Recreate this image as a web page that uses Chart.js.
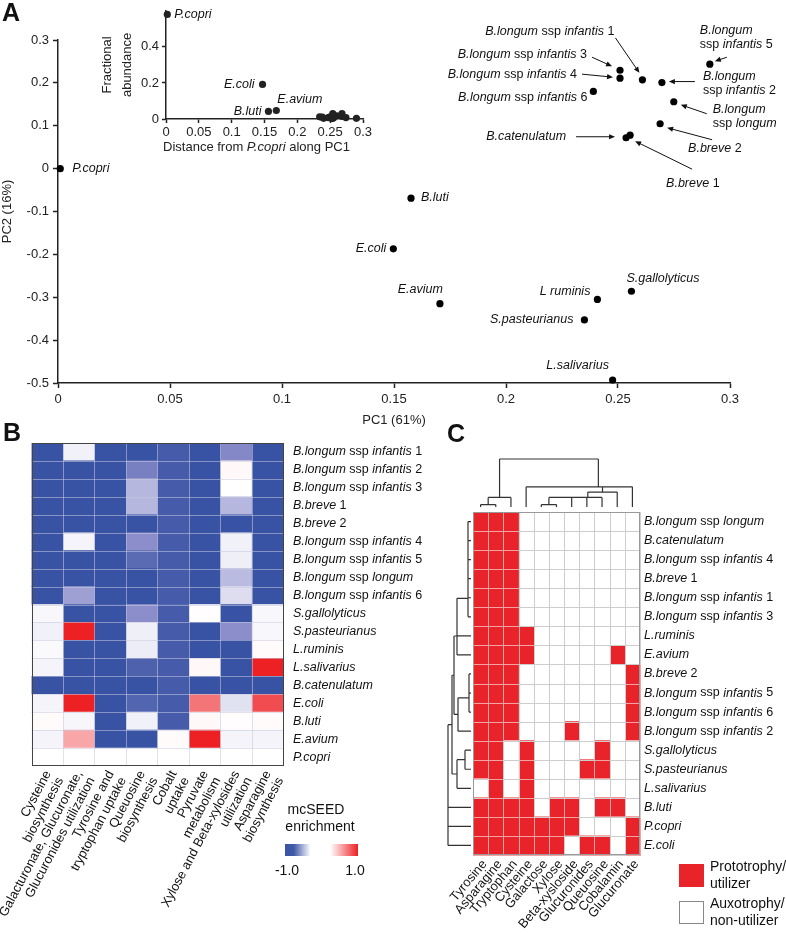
<!DOCTYPE html>
<html>
<head>
<meta charset="utf-8">
<script src="https://cdn.jsdelivr.net/npm/chart.js@4.4.1/dist/chart.umd.min.js"></script>
<style>
body{margin:0;background:#fff;}
#fig{position:relative;width:786px;height:935px;overflow:hidden;background:#fff;}
canvas{position:absolute;}
.panel{position:absolute;font-family:"Liberation Sans Narrow","Liberation Sans",Arial,sans-serif;font-weight:bold;font-size:25px;line-height:1;color:#111;}
</style>
</head>
<body>
<div id="fig">
  <canvas id="pca" width="786" height="430" style="left:0;top:0"></canvas>
  <canvas id="inset" width="290" height="160" style="left:90px;top:0"></canvas>
  <canvas id="heatB" width="445" height="510" style="left:0;top:425px"></canvas>
  <canvas id="heatC" width="346" height="510" style="left:440px;top:425px"></canvas>
  <div class="panel" style="left:2px;top:0">A</div>
  <div class="panel" style="left:3px;top:420px">B</div>
  <div class="panel" style="left:447px;top:421px">C</div>
</div>
<script>
// ---- data: panel A (PCA) ----
var speciesA = ['*P.copri*', '*B.luti*', '*E.coli*', '*E.avium*', '*L ruminis*', '*S.gallolyticus*',
  '*S.pasteurianus*', '*L.salivarius*', '*B.longum* ssp *infantis* 5', '*B.longum* ssp *infantis* 3',
  '*B.longum* ssp *infantis* 4', '*B.longum* ssp *infantis* 1', '*B.longum* ssp *infantis* 2',
  '*B.longum* ssp *infantis* 6', '*B.longum* ssp *longum*', '*B.breve* 2', '*B.catenulatum*', '*B.breve* 1'];
var pc1 = [0.001, 0.1576, 0.1497, 0.1705, 0.2408, 0.256, 0.235, 0.2476, 0.291, 0.2509,
  0.2509, 0.2609, 0.2696, 0.239, 0.2749, 0.2688, 0.2536, 0.2554];
var pc2 = [0, -0.069, -0.187, -0.315, -0.305, -0.286, -0.353, -0.493, 0.2435, 0.2295,
  0.211, 0.207, 0.2007, 0.180, 0.156, 0.1047, 0.072, 0.078];
var pcTicksX = [0, 0.3, 0.05];
var pcTicksY = [-0.5, 0.3, 0.1];

// ---- data: inset (abundance vs distance) ----
var insetNames = ['*P.copri*', '*E.coli*', '*B.luti*', '*E.avium*'];
var insetDist = [0.002, 0.147, 0.156, 0.168, 0.240, 0.255, 0.234, 0.247, 0.290, 0.250,
  0.250, 0.260, 0.268, 0.238, 0.274, 0.268, 0.253, 0.254];
var insetAbund = [0.58, 0.192, 0.042, 0.047, 0.004, 0.006, 0.012, 0.008, 0.004, 0.012,
  0.008, 0.018, 0.015, 0.01, 0.008, 0.03, 0.003, 0.03];

// ---- data: panel B (mcSEED enrichment) ----
var rowsB = ['*B.longum* ssp *infantis* 1', '*B.longum* ssp *infantis* 2', '*B.longum* ssp *infantis* 3',
  '*B.breve* 1', '*B.breve* 2', '*B.longum* ssp *infantis* 4', '*B.longum* ssp *infantis* 5',
  '*B.longum* ssp *longum*', '*B.longum* ssp *infantis* 6', '*S.gallolyticus*', '*S.pasteurianus*',
  '*L.ruminis*', '*L.salivarius*', '*B.catenulatum*', '*E.coli*', '*B.luti*', '*E.avium*', '*P.copri*'];
var colsB = [['Cysteine', 'biosynthesis'], ['Galacturonate, Glucuronate,', 'Glucuronides utilization'],
  ['Tyrosine and', 'tryptophan uptake'], ['Queuosine', 'biosynthesis'], ['Cobalt', 'uptake'],
  ['Pyruvate', 'metabolism'], ['Xylose and Beta-xylosides', 'utilization'], ['Asparagine', 'biosynthesis']];
var enrichB = [
  [-1, -0.06, -1, -1, -0.92, -1, -0.55, -1],
  [-1, -1, -1, -0.62, -0.92, -1, 0.03, -1],
  [-1, -1, -1, -0.32, -0.92, -1, 0, -1],
  [-1, -1, -1, -0.32, -0.92, -1, -0.32, -1],
  [-1, -1, -1, -1, -0.92, -1, -1, -1],
  [-1, -0.05, -1, -0.5, -0.92, -1, -0.06, -1],
  [-1, -1, -1, -0.8, -0.92, -1, -0.07, -1],
  [-1, -1, -1, -1, -0.92, -1, -0.3, -1],
  [-1, -0.42, -1, -1, -0.92, -1, -0.15, -1],
  [-0.03, -1, -1, -0.5, -0.92, 0.01, -1, -0.03],
  [-0.06, 1, -1, -0.07, -0.92, -1, -0.5, -0.03],
  [-0.02, -1, -1, -0.08, -0.92, -1, -1, 0.02],
  [-0.05, -1, -1, -0.88, -0.92, 0.03, -1, 1],
  [-1, -1, -1, -1, -0.92, -1, -1, -1],
  [-0.05, 1, -1, -0.85, -0.92, 0.62, -0.13, 0.8],
  [0.02, -0.04, -1, -0.06, -0.92, 0.03, 0.01, 0.02],
  [-0.05, 0.4, -1, -1, 0.02, 1, -0.05, -0.05],
  [0, 0, 0, 0, 0, 0, 0, 0]
];

// ---- data: panel C (growth phenotypes) ----
var rowsC = ['*B.longum* ssp *longum*', '*B.catenulatum*', '*B.longum* ssp *infantis* 4', '*B.breve* 1',
  '*B.longum* ssp *infantis* 1', '*B.longum* ssp *infantis* 3', '*L.ruminis*', '*E.avium*', '*B.breve* 2',
  '*B.longum* ssp *infantis* 5', '*B.longum* ssp *infantis* 6', '*B.longum* ssp *infantis* 2',
  '*S.gallolyticus*', '*S.pasteurianus*', '*L.salivarius*', '*B.luti*', '*P.copri*', '*E.coli*'];
var colsC = ['Tyrosine', 'Asparagine', 'Tryptophan', 'Cysteine', 'Galactose', 'Xylose', 'Beta-xysloside',
  'Glucuronides', 'Queuosine', 'Cobalamin', 'Glucuronate'];
var growthC = [
  [1, 1, 1, 0, 0, 0, 0, 0, 0, 0, 0],
  [1, 1, 1, 0, 0, 0, 0, 0, 0, 0, 0],
  [1, 1, 1, 0, 0, 0, 0, 0, 0, 0, 0],
  [1, 1, 1, 0, 0, 0, 0, 0, 0, 0, 0],
  [1, 1, 1, 0, 0, 0, 0, 0, 0, 0, 0],
  [1, 1, 1, 0, 0, 0, 0, 0, 0, 0, 0],
  [1, 1, 1, 1, 0, 0, 0, 0, 0, 0, 0],
  [1, 1, 1, 1, 0, 0, 0, 0, 0, 1, 0],
  [1, 1, 1, 0, 0, 0, 0, 0, 0, 0, 1],
  [1, 1, 1, 0, 0, 0, 0, 0, 0, 0, 1],
  [1, 1, 1, 0, 0, 0, 0, 0, 0, 0, 1],
  [1, 1, 1, 0, 0, 0, 1, 0, 0, 0, 1],
  [1, 1, 0, 1, 0, 0, 0, 0, 1, 0, 0],
  [1, 1, 0, 1, 0, 0, 0, 1, 1, 0, 0],
  [0, 1, 0, 1, 0, 0, 0, 0, 0, 0, 0],
  [1, 1, 1, 1, 0, 1, 1, 0, 1, 1, 0],
  [1, 1, 1, 1, 1, 1, 1, 0, 0, 0, 1],
  [1, 1, 1, 1, 1, 1, 0, 1, 1, 0, 1]
];
// dendrograms: [childA, childB, height]; ids >= n are earlier merges
var colTreeC = [[0, 1, 0.5], [11, 2, 2], [4, 5, 0.5], [13, 6, 2], [14, 7, 2], [15, 8, 2],
  [16, 9, 3.1], [3, 17, 4.2], [18, 10, 4.2], [12, 19, 10]];
var rowTreeC = [[0, 1, 0.3], [18, 2, 0.3], [19, 3, 0.3], [20, 4, 0.3], [21, 5, 0.3], [22, 6, 1.4],
  [23, 7, 1.4], [8, 9, 0.2], [25, 10, 0.2], [26, 11, 1.3], [24, 27, 1.7], [12, 13, 0.6],
  [29, 14, 1.4], [28, 30, 1.9], [31, 15, 2.3], [32, 16, 2.3], [33, 17, 2.3]];

// ---- label placement (pixels relative to the point) ----
var labelLayoutA = [
  {dx: 12, dy: 0, align: 'left'},
  {dx: 10, dy: -1, align: 'left'},
  {dx: -7, dy: 0, align: 'right'},
  {dx: 3, dy: -14, align: 'right'},
  {dx: -7, dy: -8, align: 'right'},
  {dx: -5, dy: -13, align: 'left'},
  {dx: -11, dy: 0, align: 'right'},
  {dx: -35, dy: -14, align: 'center'},
  {wrap: true, dx: -10, dy: -34, align: 'left', arrow: [17, -7, 5, -3]},
  {dx: -33, dy: -16, align: 'right', arrow: [-28, -13, -8, -4]},
  {dx: -43, dy: -4, align: 'right', arrow: [-38, -4, -7, -1]},
  {dx: -28, dy: -48, align: 'right', arrow: [-27, -42, -3, -7]},
  {wrap: true, dx: 41, dy: -6, align: 'left', arrow: [33, -1, 7, -1]},
  {dx: -6, dy: 6, align: 'right'},
  {wrap: true, dx: 39, dy: 8, align: 'left', arrow: [33, 12, 7, 3]},
  {dx: 28, dy: 25, align: 'left', arrow: [52, 16, 7, 4]},
  {dx: -60, dy: -1, align: 'right', arrow: [-50, -1, -11, -1]},
  {dx: 36, dy: 48, align: 'left', arrow: [62, 34, 5, 6]}
];
var labelLayoutInset = [
  {dx: 7, dy: 0, align: 'left'},
  {dx: -8, dy: 0, align: 'right'},
  {dx: -7, dy: 0, align: 'right'},
  {dx: 1, dy: -11, align: 'left'}
];

var FONT = '"Liberation Sans", Arial, Helvetica, sans-serif';
var INK = '#222';
Chart.defaults.font.family = FONT;
Chart.defaults.font.size = 13;
Chart.defaults.color = INK;
Chart.defaults.animation = false;

function shortNum(v) { return String(Math.round(v * 1000) / 1000); }

// text with *italic* parts
function drawRich(ctx, str, x, y, align, size) {
  var parts = str.split('*').map(function(t, i){ return {t: t, it: i % 2 === 1}; })
    .filter(function(p){ return p.t.length; });
  var w = 0;
  parts.forEach(function(p){
    ctx.font = (p.it ? 'italic ' : '') + size + 'px ' + FONT;
    p.w = ctx.measureText(p.t).width;
    w += p.w;
  });
  var cx = align === 'right' ? x - w : (align === 'center' ? x - w / 2 : x);
  ctx.textAlign = 'left';
  ctx.textBaseline = 'middle';
  parts.forEach(function(p){
    ctx.font = (p.it ? 'italic ' : '') + size + 'px ' + FONT;
    ctx.fillText(p.t, cx, y);
    cx += p.w;
  });
}

function arrow(ctx, x1, y1, x2, y2) {
  var ang = Math.atan2(y2 - y1, x2 - x1), L = 6, W = 2.6;
  ctx.beginPath();
  ctx.moveTo(x1, y1);
  ctx.lineTo(x2 - Math.cos(ang) * L * 0.8, y2 - Math.sin(ang) * L * 0.8);
  ctx.stroke();
  ctx.beginPath();
  ctx.moveTo(x2, y2);
  ctx.lineTo(x2 - L * Math.cos(ang) + W * Math.sin(ang), y2 - L * Math.sin(ang) - W * Math.cos(ang));
  ctx.lineTo(x2 - L * Math.cos(ang) - W * Math.sin(ang), y2 - L * Math.sin(ang) + W * Math.cos(ang));
  ctx.closePath();
  ctx.fill();
}

function pointLabels(chart, names, layout) {
  var ctx = chart.ctx, pts = chart.getDatasetMeta(0).data;
  ctx.save();
  ctx.fillStyle = '#111';
  ctx.strokeStyle = '#111';
  ctx.lineWidth = 1;
  layout.forEach(function(l, i){
    var p = pts[i];
    var lines = l.wrap ? [names[i].split(' ssp ')[0], 'ssp ' + names[i].split(' ssp ')[1]] : [names[i]];
    lines.forEach(function(s, k){
      drawRich(ctx, s, p.x + l.dx, p.y + l.dy + k * 14, l.align, 12.5);
    });
    if (l.arrow) {
      arrow(ctx, p.x + l.arrow[0], p.y + l.arrow[1], p.x + l.arrow[2], p.y + l.arrow[3]);
    }
  });
  ctx.restore();
}

function axisStyle(extra) {
  var base = {
    grid: {drawOnChartArea: false, tickLength: 5, tickColor: INK, tickWidth: 1.5},
    border: {color: INK, width: 1.5},
    ticks: {color: INK, font: {size: 13}, padding: 3}
  };
  return Object.assign(base, extra);
}

// ---- Panel A ----
new Chart(document.getElementById('pca'), {
  type: 'scatter',
  data: {
    datasets: [{
      data: pc1.map(function(v, i){ return {x: v, y: pc2[i]}; }),
      backgroundColor: '#000', pointRadius: 3.6, pointBorderWidth: 0, clip: false
    }]
  },
  options: {
    responsive: false,
    layout: {padding: {left: 0, right: 56, top: 40, bottom: 0}},
    plugins: {legend: {display: false}, tooltip: {enabled: false}},
    scales: {
      x: axisStyle({
        type: 'linear', min: pcTicksX[0], max: pcTicksX[1],
        afterFit: function(s){ s.height = 47; },
        ticks: {stepSize: pcTicksX[2], color: INK, font: {size: 13}, padding: 4, callback: shortNum},
        title: {display: true, text: 'PC1 (61%)', color: INK, font: {size: 13}, padding: {top: 0, bottom: 2}}
      }),
      y: axisStyle({
        type: 'linear', min: pcTicksY[0], max: pcTicksY[1],
        afterFit: function(s){ s.width = 58; },
        ticks: {stepSize: pcTicksY[2], color: INK, font: {size: 13}, padding: 4, callback: shortNum},
        title: {display: true, text: 'PC2 (16%)', color: INK, font: {size: 13}, padding: {top: 0, bottom: 0}}
      })
    }
  },
  plugins: [{id: 'pcaLabels', afterDatasetsDraw: function(chart){ pointLabels(chart, speciesA, labelLayoutA); }}]
});

// ---- Inset ----
new Chart(document.getElementById('inset'), {
  type: 'scatter',
  data: {
    datasets: [{
      data: insetDist.map(function(v, i){ return {x: v, y: insetAbund[i]}; }),
      backgroundColor: '#222', pointRadius: 3.6, pointBorderWidth: 0, clip: false
    }]
  },
  options: {
    responsive: false,
    layout: {padding: {left: 0, right: 17, top: 5, bottom: 0}},
    plugins: {legend: {display: false}, tooltip: {enabled: false}},
    scales: {
      x: axisStyle({
        type: 'linear', min: 0, max: 0.3,
        afterFit: function(s){ s.height = 41; },
        grid: {drawOnChartArea: false, tickLength: 4, tickColor: INK, tickWidth: 1.5},
        ticks: {stepSize: 0.05, color: INK, font: {size: 13}, padding: 2, callback: shortNum}
      }),
      y: axisStyle({
        type: 'linear', min: 0, max: 0.6,
        afterFit: function(s){ s.width = 76; },
        grid: {drawOnChartArea: false, tickLength: 4, tickWidth: 1.5,
          tickColor: function(c){ return c.tick && c.tick.value > 0.55 ? 'rgba(0,0,0,0)' : INK; }},
        ticks: {stepSize: 0.1, color: INK, font: {size: 13}, padding: 3,
          callback: function(v){
            if (Math.abs(v) < 1e-9) return '0';
            if (Math.abs(v - 0.2) < 1e-9 || Math.abs(v - 0.4) < 1e-9) return v.toFixed(1);
            return '';
          }}
      })
    }
  },
  plugins: [{id: 'insetLabels', afterDatasetsDraw: function(chart){
    var ctx = chart.ctx, a = chart.chartArea;
    pointLabels(chart, insetNames, labelLayoutInset);
    ctx.save();
    ctx.fillStyle = INK;
    drawRich(ctx, 'Distance from *P.copri* along PC1', (a.left + a.right) / 2 - 8, 147, 'center', 13);
    ctx.translate(0, (a.top + a.bottom) / 2);
    ctx.rotate(-Math.PI / 2);
    drawRich(ctx, 'Fractional', 0, 17, 'center', 13);
    drawRich(ctx, 'abundance', 0, 37, 'center', 13);
    ctx.restore();
  }}]
});

// ---- heatmap helpers ----
var BLUE = [57, 83, 164], MIDB = [140, 142, 203], WHITE = [255, 255, 255], RED = [237, 32, 36];
function mix(a, b, t) { return a.map(function(v, i){ return Math.round(v + (b[i] - v) * t); }); }
function enrichColor(v) {
  var c;
  if (v <= -0.5) c = mix(BLUE, MIDB, (v + 1) / 0.5);
  else if (v < 0) c = mix(MIDB, WHITE, (v + 0.5) / 0.5);
  else c = mix(WHITE, RED, v);
  return 'rgb(' + c.join(',') + ')';
}

function heatConfig(rows, cols, values, colorFn, pad, plugin) {
  return {
    type: 'bar',
    data: {
      labels: rows,
      datasets: cols.map(function(c, j){
        return {
          label: [].concat(c).join(' '),
          data: rows.map(function(){ return 1; }),
          backgroundColor: rows.map(function(r, i){ return colorFn(values[i][j]); }),
          borderWidth: 0, barPercentage: 1, categoryPercentage: 1
        };
      })
    },
    options: {
      indexAxis: 'y',
      responsive: false,
      layout: {padding: pad},
      plugins: {legend: {display: false}, tooltip: {enabled: false}},
      scales: {
        x: {type: 'linear', min: 0, max: cols.length, stacked: true, display: false},
        y: {type: 'category', stacked: true, display: false, offset: true}
      }
    },
    plugins: [plugin]
  };
}

function drawTree(ctx, merges, n, leafPos, hPx, leafEdge, vertical) {
  var pos = [], hgt = [];
  for (var i = 0; i < n; i++) { pos[i] = leafPos(i); hgt[i] = null; }
  function seg(p1, h1, p2, h2) {
    if (vertical) { ctx.moveTo(p1, h1); ctx.lineTo(p2, h2); }
    else { ctx.moveTo(h1, p1); ctx.lineTo(h2, p2); }
  }
  ctx.beginPath();
  merges.forEach(function(m, k){
    var id = n + k, hp = hPx(m[2]);
    pos[id] = (pos[m[0]] + pos[m[1]]) / 2;
    hgt[id] = m[2];
    [m[0], m[1]].forEach(function(c){
      seg(pos[c], hgt[c] === null ? leafEdge : hPx(hgt[c]), pos[c], hp);
    });
    seg(pos[m[0]], hp, pos[m[1]], hp);
  });
  ctx.stroke();
}

// ---- Panel B ----
new Chart(document.getElementById('heatB'), heatConfig(rowsB, colsB, enrichB, enrichColor,
  {left: 31.5, right: 162, top: 18, bottom: 169},
  {id: 'heatBDecor', afterDatasetsDraw: function(chart){
    var ctx = chart.ctx, a = chart.chartArea, x = chart.scales.x, y = chart.scales.y;
    var band = (a.bottom - a.top) / rowsB.length;
    ctx.save();
    ctx.strokeStyle = 'rgba(200,202,222,0.55)';
    ctx.lineWidth = 1;
    ctx.beginPath();
    for (var i = 1; i < rowsB.length; i++) {
      var yy = Math.round(a.top + i * band) + 0.5;
      ctx.moveTo(a.left, yy); ctx.lineTo(a.right, yy);
    }
    for (var j = 1; j < colsB.length; j++) {
      var xx = Math.round(x.getPixelForValue(j)) + 0.5;
      ctx.moveTo(xx, a.top); ctx.lineTo(xx, a.bottom);
    }
    ctx.stroke();
    ctx.strokeStyle = '#444';
    ctx.strokeRect(Math.round(a.left) + 0.5, Math.round(a.top) + 0.5,
      Math.round(a.right - a.left) - 1, Math.round(a.bottom - a.top) - 1);
    ctx.fillStyle = '#111';
    rowsB.forEach(function(r, i){ drawRich(ctx, r, a.right + 10, y.getPixelForValue(i), 'left', 12.5); });
    // rotated column labels
    ctx.font = '13px ' + FONT;
    ctx.textAlign = 'right';
    ctx.textBaseline = 'middle';
    colsB.forEach(function(lines, j){
      ctx.save();
      ctx.translate(x.getPixelForValue(j + 0.5) + 7, a.bottom + 9);
      ctx.rotate(-62 * Math.PI / 180);
      lines.forEach(function(s, k){ ctx.fillText(s, 0, (k - (lines.length - 1) / 2) * 14); });
      ctx.restore();
    });
    // colour legend
    ctx.font = '14px ' + FONT;
    ctx.textAlign = 'center';
    ctx.fillText('mcSEED', 316, 385);
    ctx.fillText('enrichment', 320, 402);
    var g = ctx.createLinearGradient(285, 0, 358, 0);
    g.addColorStop(0, enrichColor(-1));
    g.addColorStop(0.12, enrichColor(-0.95));
    g.addColorStop(0.35, enrichColor(0));
    g.addColorStop(0.62, enrichColor(0));
    g.addColorStop(0.85, enrichColor(0.6));
    g.addColorStop(1, enrichColor(1));
    ctx.fillStyle = g;
    ctx.fillRect(285, 419, 73, 12);
    ctx.fillStyle = '#111';
    ctx.fillText('-1.0', 287, 446);
    ctx.fillText('1.0', 355, 446);
    ctx.restore();
  }}));

// ---- Panel C ----
var REDC = '#e8232a';
new Chart(document.getElementById('heatC'), heatConfig(rowsC, colsC, growthC,
  function(v){ return v ? REDC : '#ffffff'; },
  {left: 33, right: 146, top: 87, bottom: 80},
  {id: 'heatCDecor', afterDatasetsDraw: function(chart){
    var ctx = chart.ctx, a = chart.chartArea, x = chart.scales.x, y = chart.scales.y;
    var band = (a.bottom - a.top) / rowsC.length;
    ctx.save();
    ctx.lineWidth = 1;
    [1, 0].forEach(function(state){
      ctx.strokeStyle = state ? '#f2a2a2' : '#cdcdcd';
      growthC.forEach(function(row, i){
        row.forEach(function(v, j){
          if (v !== state) return;
          var x0 = Math.round(x.getPixelForValue(j)) + 0.5, x1 = Math.round(x.getPixelForValue(j + 1)) + 0.5;
          var y0 = Math.round(a.top + i * band) + 0.5, y1 = Math.round(a.top + (i + 1) * band) + 0.5;
          ctx.strokeRect(x0, y0, x1 - x0, y1 - y0);
        });
      });
    });
    ctx.strokeStyle = '#999';
    ctx.strokeRect(Math.round(a.left) + 0.5, Math.round(a.top) + 0.5,
      Math.round(a.right - a.left) - 1, Math.round(a.bottom - a.top) - 1);
    ctx.fillStyle = '#111';
    rowsC.forEach(function(r, i){ drawRich(ctx, r, a.right + 4, y.getPixelForValue(i), 'left', 12.5); });
    // rotated column labels
    ctx.font = '13px ' + FONT;
    ctx.textAlign = 'right';
    ctx.textBaseline = 'middle';
    colsC.forEach(function(s, j){
      ctx.save();
      ctx.translate(x.getPixelForValue(j + 0.5) + 4, a.bottom + 7);
      ctx.rotate(-50 * Math.PI / 180);
      ctx.fillText(s, 0, 0);
      ctx.restore();
    });
    // dendrograms
    ctx.strokeStyle = '#333';
    ctx.lineWidth = 1.2;
    drawTree(ctx, colTreeC, colsC.length,
      function(j){ return x.getPixelForValue(j + 0.5); },
      function(h){ return a.top - 5 - h * 4.8; }, a.top - 5, true);
    drawTree(ctx, rowTreeC, rowsC.length,
      function(i){ return y.getPixelForValue(i); },
      function(h){ return a.left - 2 - h * 10; }, a.left - 2, false);
    // legend
    ctx.fillStyle = REDC;
    ctx.fillRect(239, 439, 25, 23);
    ctx.fillStyle = '#fff';
    ctx.fillRect(239, 476, 25, 23);
    ctx.strokeStyle = '#888';
    ctx.lineWidth = 1;
    ctx.strokeRect(239.5, 476.5, 24, 22);
    ctx.fillStyle = '#111';
    ctx.font = '14px ' + FONT;
    ctx.textAlign = 'left';
    ctx.fillText('Prototrophy/', 270, 442);
    ctx.fillText('utilizer', 270, 459);
    ctx.fillText('Auxotrophy/', 270, 479);
    ctx.fillText('non-utilizer', 270, 496);
    ctx.restore();
  }}));
</script>
</body>
</html>
